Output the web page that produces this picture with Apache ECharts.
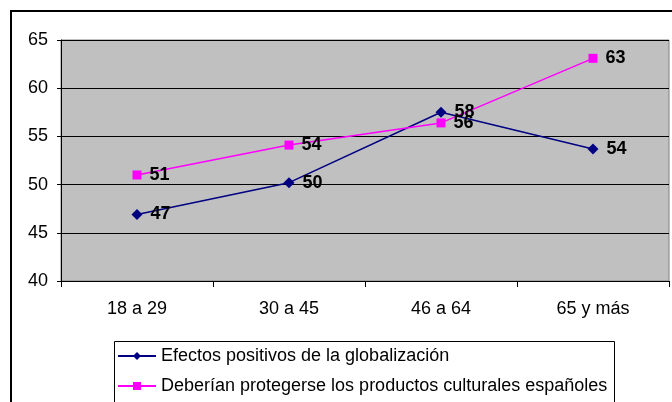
<!DOCTYPE html>
<html lang="es">
<head>
  <meta charset="UTF-8">
  <title>Globalización</title>
  <script src="https://cdn.jsdelivr.net/npm/echarts@6/dist/echarts.min.js"></script>
  <style>
    body { margin: 0; background: #fff; }
  </style>
</head>
<body>
  <div id="app" style="width: 672px; height: 402px;"></div>
  <script>
    var categories = ['18 a 29', '30 a 45', '46 a 64', '65 y más']
    var efectos = [46.9, 50.2, 57.5, 53.7]
    var proteger = [51.0, 54.1, 56.4, 63.1]
    var efectosLabels = ['47', '50', '58', '54']
    var protegerLabels = ['51', '54', '56', '63']

    var font = 'Liberation Sans, Arial, sans-serif'
    var mCharts = echarts.init(document.querySelector('#app'))

    var labelStyle = function (texts) {
      return {
        show: true,
        position: 'right',
        distance: 8,
        color: '#000',
        fontFamily: font,
        fontWeight: 'bold',
        fontSize: 18,
        formatter: function (p) { return texts[p.dataIndex] }
      }
    }

    var option = {
      animation: false,
      textStyle: { fontFamily: font },
      graphic: [
        {
          type: 'rect',
          shape: { x: 11, y: 11, width: 700, height: 420 },
          style: { fill: 'none', stroke: '#000', lineWidth: 2 },
          z: -10
        },
        {
          type: 'rect',
          shape: { x: 114.5, y: 341.5, width: 500, height: 80 },
          style: { fill: '#fff', stroke: '#000', lineWidth: 1 },
          z: -5
        }
      ],
      grid: {
        left: 61, top: 40, right: 3, bottom: 121,
        show: true,
        backgroundColor: '#c0c0c0',
        borderColor: '#808080',
        borderWidth: 1
      },
      legend: {
        orient: 'vertical',
        left: 117,
        top: 347,
        itemWidth: 38,
        itemHeight: 10,
        itemGap: 12,
        padding: 0,
        textStyle: { fontSize: 18, color: '#000', fontFamily: font },
        data: ['Efectos positivos de la globalización', 'Deberían protegerse los productos culturales españoles']
      },
      xAxis: {
        type: 'category',
        data: categories,
        boundaryGap: true,
        axisLine: { lineStyle: { color: '#000' } },
        axisTick: { show: true, length: 6, lineStyle: { color: '#000' } },
        axisLabel: { fontSize: 18, color: '#000', margin: 19 }
      },
      yAxis: {
        type: 'value',
        min: 40,
        max: 65,
        interval: 5,
        axisLine: { show: true, lineStyle: { color: '#000' } },
        axisTick: { show: true, length: 4, lineStyle: { color: '#000' } },
        axisLabel: { fontSize: 18, color: '#000', margin: 13 },
        splitLine: { lineStyle: { color: '#000' } }
      },
      series: [
        {
          name: 'Efectos positivos de la globalización',
          type: 'line',
          data: efectos,
          symbol: 'diamond',
          symbolSize: 11,
          itemStyle: { color: '#000080' },
          lineStyle: { color: '#000080', width: 1.5 },
          label: labelStyle(efectosLabels)
        },
        {
          name: 'Deberían protegerse los productos culturales españoles',
          type: 'line',
          data: proteger,
          symbol: 'rect',
          symbolSize: 9,
          itemStyle: { color: '#ff00ff' },
          lineStyle: { color: '#ff00ff', width: 1.5 },
          label: labelStyle(protegerLabels)
        }
      ]
    }
    mCharts.setOption(option)
  </script>
</body>
</html>
